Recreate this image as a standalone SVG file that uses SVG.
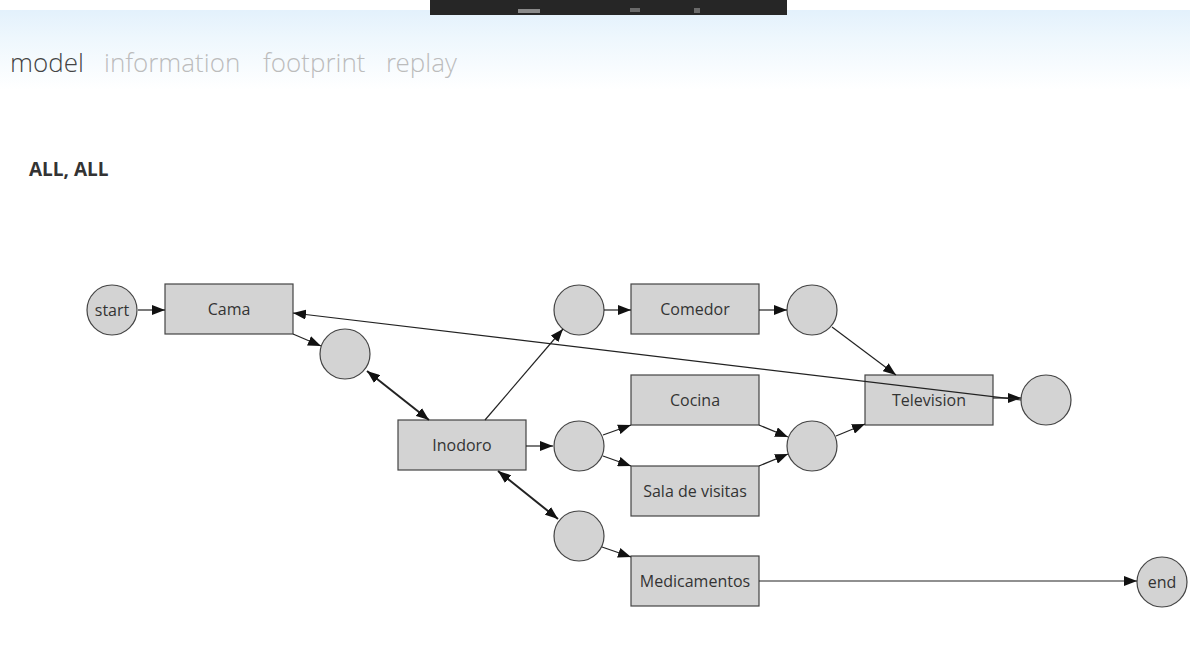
<svg xmlns="http://www.w3.org/2000/svg" width="1190" height="664" viewBox="0 0 1190 664">
<defs>
<linearGradient id="hdr" x1="0" y1="0" x2="0" y2="1">
<stop offset="0" stop-color="#e3f1fc"/>
<stop offset="0.35" stop-color="#eef7fd"/>
<stop offset="1" stop-color="#ffffff"/>
</linearGradient>
<marker id="arr" viewBox="0 0 13 10" markerUnits="userSpaceOnUse" markerWidth="13" markerHeight="10" refX="13" refY="5" orient="auto-start-reverse">
<path d="M0,0 L13,5 L0,10 z" fill="#111"/>
</marker>
<style>
.nav{font-family:"Open Sans Light","Open Sans","Liberation Sans",sans-serif;font-weight:300;font-size:26px}
.title{font-family:"Open Sans","Liberation Sans",sans-serif;font-weight:700;font-size:19px;fill:#333}
.node rect,.node circle{fill:#d3d3d3;stroke:#444;stroke-width:1.2}
.node text{font-family:"Open Sans","Liberation Sans",sans-serif;font-size:16px;fill:#333;text-anchor:middle;dominant-baseline:central}
.e{stroke:#222;stroke-width:1.2;fill:none;marker-end:url(#arr)}
.b{stroke:#222;stroke-width:2;fill:none;marker-end:url(#arr);marker-start:url(#arr)}
</style>
</defs>
<rect x="0" y="0" width="1190" height="664" fill="#ffffff"/>
<rect x="0" y="10" width="1190" height="80" fill="url(#hdr)"/>
<rect x="430" y="0" width="357" height="15" fill="#262626"/>
<rect x="518" y="9" width="22" height="4" fill="#8a8a8a"/>
<rect x="630" y="8" width="10" height="4" fill="#6a6a6a"/>
<rect x="694" y="8" width="6" height="5" fill="#6a6a6a"/>
<text class="nav" x="10" y="72" fill="#444">model</text>
<text class="nav" x="104" y="72" fill="#bcbcbc">information</text>
<text class="nav" x="263" y="72" fill="#bcbcbc">footprint</text>
<text class="nav" x="386" y="72" fill="#bcbcbc">replay</text>
<text class="title" x="29" y="176">ALL, ALL</text>

<g id="start" class="node"><circle cx="112" cy="310" r="25"/><text x="112" y="310">start</text></g>
<g id="cama" class="node"><rect x="165" y="284" width="128" height="50"/><text x="229" y="309">Cama</text></g>
<g id="p1" class="node"><circle cx="345" cy="354" r="25"/></g>
<g id="inodoro" class="node"><rect x="398" y="420" width="128" height="50"/><text x="462" y="445">Inodoro</text></g>
<g id="p2" class="node"><circle cx="579" cy="310" r="25"/></g>
<g id="comedor" class="node"><rect x="631" y="284" width="128" height="50"/><text x="695" y="309">Comedor</text></g>
<g id="p3" class="node"><circle cx="812" cy="310" r="25"/></g>
<g id="p4" class="node"><circle cx="579" cy="446" r="25"/></g>
<g id="cocina" class="node"><rect x="631" y="375" width="128" height="50"/><text x="695" y="400">Cocina</text></g>
<g id="sala" class="node"><rect x="631" y="466" width="128" height="50"/><text x="695" y="491">Sala de visitas</text></g>
<g id="p5" class="node"><circle cx="812" cy="446" r="25"/></g>
<g id="television" class="node"><rect x="865" y="375" width="128" height="50"/><text x="929" y="400">Television</text></g>
<g id="p6" class="node"><circle cx="1046" cy="400" r="25"/></g>
<g id="p7" class="node"><circle cx="579" cy="536" r="25"/></g>
<g id="medicamentos" class="node"><rect x="631" y="556" width="128" height="50"/><text x="695" y="581">Medicamentos</text></g>
<g id="end" class="node"><circle cx="1162" cy="582" r="25"/><text x="1162" y="582">end</text></g>

<g id="connectors">
<line class="e" x1="138" y1="310" x2="165" y2="310"/>
<line class="e" x1="293" y1="334" x2="321" y2="346"/>
<line class="b" x1="367" y1="371" x2="429" y2="420"/>
<line class="e" x1="485" y1="420" x2="563" y2="329"/>
<line class="e" x1="604" y1="310" x2="631" y2="310"/>
<line class="e" x1="759" y1="310" x2="787" y2="310"/>
<line class="e" x1="832" y1="327" x2="896" y2="375"/>
<line class="e" x1="526" y1="446" x2="553" y2="446"/>
<line class="e" x1="603" y1="435" x2="631" y2="425"/>
<line class="e" x1="603" y1="456" x2="631" y2="466"/>
<line class="e" x1="759" y1="425" x2="788" y2="437"/>
<line class="e" x1="759" y1="466" x2="788" y2="454"/>
<line class="e" x1="836" y1="436" x2="865" y2="424"/>
<line class="e" x1="993" y1="398" x2="1021" y2="398"/>
<line class="e" x1="1021" y1="400" x2="293" y2="313"/>
<line class="b" x1="498" y1="471" x2="558" y2="519"/>
<line class="e" x1="602" y1="547" x2="631" y2="557"/>
<line class="e" x1="759" y1="581" x2="1137" y2="581"/>
</g>
</svg>
